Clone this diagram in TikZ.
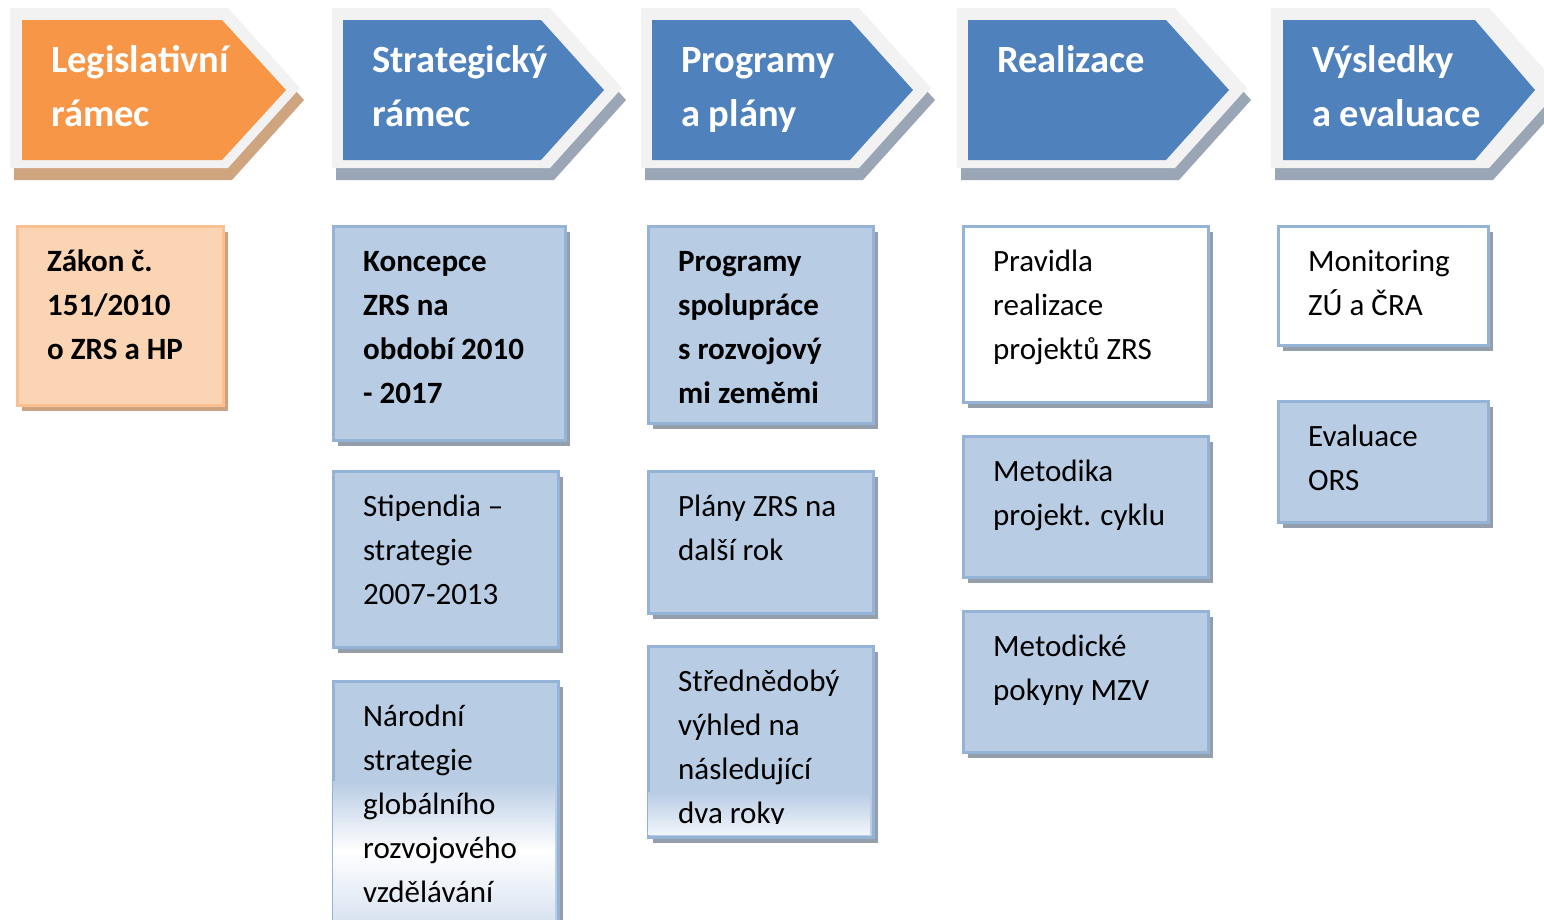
\documentclass[tikz,border=0pt]{standalone}
\usepackage{fontspec}
\setmainfont{Carlito}
\usepackage{tikz}
\usetikzlibrary{shadows}

\definecolor{hdrorange}{HTML}{F79646}
\definecolor{hdrblue}{HTML}{4F81BD}
\definecolor{hdrgray}{HTML}{F2F2F2}
\definecolor{hdrorangeshadow}{HTML}{CFA580}
\definecolor{hdrblueshadow}{HTML}{9AA6B5}
\definecolor{boxfill}{HTML}{B8CCE4}
\definecolor{boxline}{HTML}{95B3D7}
\definecolor{boxshadow}{HTML}{959FAC}
\definecolor{lawfill}{HTML}{FBD4B4}
\definecolor{lawline}{HTML}{FAC090}
\definecolor{lawshadow}{HTML}{CDA27E}

\tikzset{
  hdrtext/.style={font=\bfseries\fontsize{38.5}{54}\selectfont,text=white,anchor=base west,align=left,inner sep=0pt},
  boxtext/.style={font=\fontsize{31}{44}\selectfont,anchor=base west,align=left,inner sep=0pt},
  boldtext/.style={boxtext,font=\bfseries\fontsize{31}{44}\selectfont},
  bluebox/.style={draw=boxline,line width=3pt,fill=boxfill,rectangle,anchor=north west,inner sep=0pt,
    general shadow={fill=boxshadow,shadow xshift=5pt,shadow yshift=-6pt}},
  whitebox/.style={bluebox,fill=white},
  lawbox/.style={bluebox,draw=lawline,fill=lawfill,
    general shadow={fill=lawshadow,shadow xshift=5pt,shadow yshift=-6pt}}
}

\begin{document}
\begin{tikzpicture}[x=1pt,y=-1pt]
\clip (0,0) rectangle (1544,919);
\fill[white] (0,0) rectangle (1544,919);

% header arrows (text nodes sit on the baseline of their last line)
\fill[hdrorangeshadow] (14,20) -- ++(218,0) -- ++(72,80) -- ++(-72,80) -- ++(-218,0) -- cycle;
\fill[hdrgray] (10,8) -- ++(218,0) -- ++(72,80) -- ++(-72,80) -- ++(-218,0) -- cycle;
\fill[hdrorange] (22,20) -- ++(200,0) -- ++(64,70) -- ++(-64,70) -- ++(-200,0) -- cycle;
\node[hdrtext] (hdrlegis) at (51,126) {Legislativní\\rámec};

\fill[hdrblueshadow] (336,20) -- ++(218,0) -- ++(72,80) -- ++(-72,80) -- ++(-218,0) -- cycle;
\fill[hdrgray] (332,8) -- ++(218,0) -- ++(72,80) -- ++(-72,80) -- ++(-218,0) -- cycle;
\fill[hdrblue] (343,20) -- ++(198,0) -- ++(63,70) -- ++(-63,70) -- ++(-198,0) -- cycle;
\node[hdrtext] (hdrstrat) at (372,126) {Strategický\\rámec};

\fill[hdrblueshadow] (645,20) -- ++(218,0) -- ++(72,80) -- ++(-72,80) -- ++(-218,0) -- cycle;
\fill[hdrgray] (641,8) -- ++(218,0) -- ++(72,80) -- ++(-72,80) -- ++(-218,0) -- cycle;
\fill[hdrblue] (652,20) -- ++(198,0) -- ++(63,70) -- ++(-63,70) -- ++(-198,0) -- cycle;
\node[hdrtext] (hdrprog) at (681,126) {Programy\\a plány};

\fill[hdrblueshadow] (961,20) -- ++(218,0) -- ++(72,80) -- ++(-72,80) -- ++(-218,0) -- cycle;
\fill[hdrgray] (957,8) -- ++(218,0) -- ++(72,80) -- ++(-72,80) -- ++(-218,0) -- cycle;
\fill[hdrblue] (968,20) -- ++(198,0) -- ++(63,70) -- ++(-63,70) -- ++(-198,0) -- cycle;
\node[hdrtext] (hdrreal) at (997,72) {Realizace};

\fill[hdrblueshadow] (1275,20) -- ++(218,0) -- ++(72,80) -- ++(-72,80) -- ++(-218,0) -- cycle;
\fill[hdrgray] (1271,8) -- ++(218,0) -- ++(72,80) -- ++(-72,80) -- ++(-218,0) -- cycle;
\fill[hdrblue] (1283,20) -- ++(192,0) -- ++(60,70) -- ++(-60,70) -- ++(-192,0) -- cycle;
\node[hdrtext] (hdrvysl) at (1312,126) {Výsledky\\a evaluace};

% column 1
\node[lawbox,minimum width=206pt,minimum height=179pt] (zakon) at (15.5,224.5) {};
\node[boldtext] (tzakon) at ([xshift=31.5pt,yshift=-135pt]zakon.north west) {Zákon č.\\151/2010\\o ZRS a HP};

% column 2
\node[bluebox,minimum width=232pt,minimum height=214pt] (koncepce) at (331.5,224.5) {};
\node[boldtext] (tkoncepce) at ([xshift=31.5pt,yshift=-179pt]koncepce.north west) {Koncepce\\ZRS na\\období 2010\\- 2017};
\node[bluebox,minimum width=225pt,minimum height=176pt] (stipendia) at (331.5,469.5) {};
\node[boxtext] (tstipendia) at ([xshift=31.5pt,yshift=-135pt]stipendia.north west) {Stipendia --\\strategie\\2007-2013};
\node[bluebox,minimum width=225pt,minimum height=270pt] (narodni) at (331.5,679.5) {};
\fill[top color=boxfill,bottom color=boxfill!55,middle color=white] (333,781) rectangle (555,921);
\node[boxtext] (tnarodni) at ([xshift=31.5pt,yshift=-223pt]narodni.north west) {Národní\\strategie\\globálního\\rozvojového\\vzdělávání};

% column 3
\node[bluebox,minimum width=225pt,minimum height=197pt] (programy) at (646.5,224.5) {};
\node[boldtext] (tprogramy) at ([xshift=31.5pt,yshift=-179pt]programy.north west) {Programy\\spolupráce\\s rozvojový\\mi zeměmi};
\node[bluebox,minimum width=225pt,minimum height=142pt] (plany) at (646.5,469.5) {};
\node[boxtext] (tplany) at ([xshift=31.5pt,yshift=-91pt]plany.north west) {Plány ZRS na\\další rok};
\node[bluebox,minimum width=225pt,minimum height=191pt] (stredne) at (646.5,644.5) {};
\fill[top color=boxfill,bottom color=boxfill!20] (648,792) rectangle (870,834);
\begin{scope}
\clip (648,646) rectangle (870,823);
\node[boxtext] (tstredne) at ([xshift=31.5pt,yshift=-179pt]stredne.north west) {Střednědobý\\výhled na\\následující\\dva roky};
\end{scope}

% column 4
\node[whitebox,minimum width=245pt,minimum height=176pt] (pravidla) at (961.5,224.5) {};
\node[boxtext] (tpravidla) at ([xshift=31.5pt,yshift=-135pt]pravidla.north west) {Pravidla\\realizace\\projektů ZRS};
\node[bluebox,minimum width=245pt,minimum height=141pt] (metodika) at (961.5,434.5) {};
\node[boxtext] (tmetodika) at ([xshift=31.5pt,yshift=-91pt]metodika.north west) {Metodika\\projekt. cyklu};
\node[bluebox,minimum width=245pt,minimum height=141pt] (pokyny) at (961.5,609.5) {};
\node[boxtext] (tpokyny) at ([xshift=31.5pt,yshift=-91pt]pokyny.north west) {Metodické\\pokyny MZV};

% column 5
\node[whitebox,minimum width=210pt,minimum height=119pt] (monitoring) at (1276.5,224.5) {};
\node[boxtext] (tmonitoring) at ([xshift=31.5pt,yshift=-91pt]monitoring.north west) {Monitoring\\ZÚ a ČRA};
\node[bluebox,minimum width=210pt,minimum height=121pt] (evaluace) at (1276.5,399.5) {};
\node[boxtext] (tevaluace) at ([xshift=31.5pt,yshift=-91pt]evaluace.north west) {Evaluace\\ORS};
\end{tikzpicture}
\end{document}
